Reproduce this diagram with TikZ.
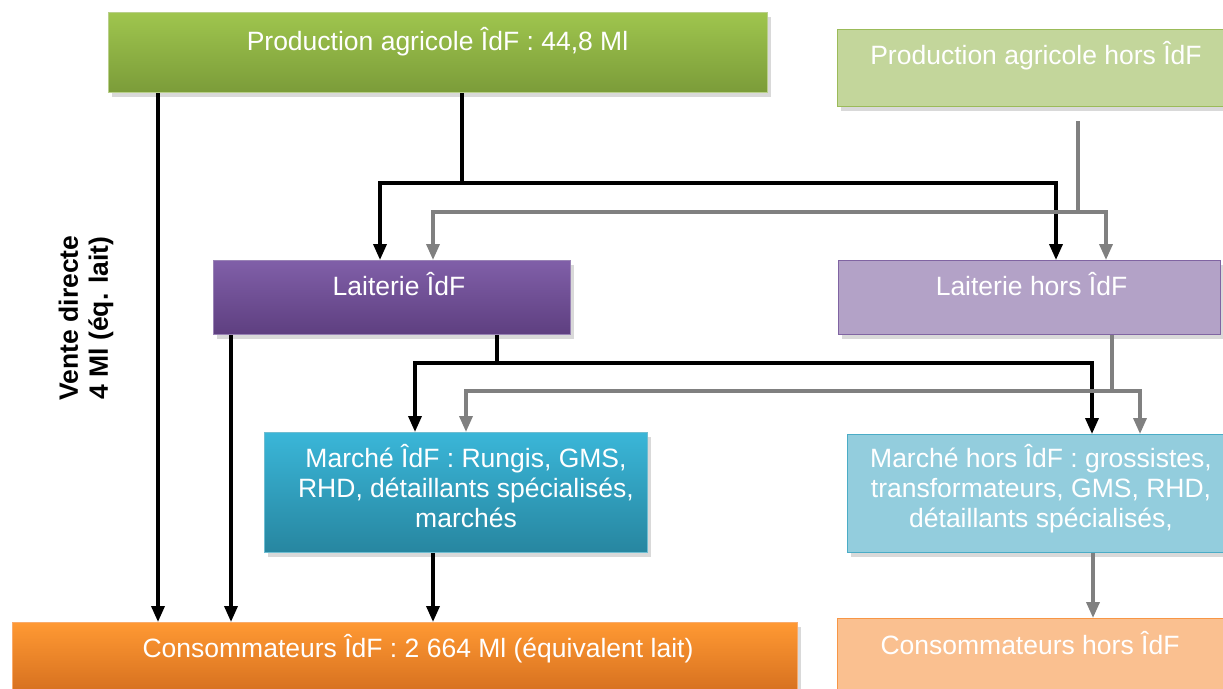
\documentclass[tikz,border=0pt]{standalone}
\usepackage{fontspec}
\setmainfont{Liberation Sans}
\usepackage{xcolor}
\usetikzlibrary{calc}
\usetikzlibrary{arrows.meta,shadows}

\definecolor{grn}{HTML}{9BBB59}
\definecolor{grnTop}{HTML}{9FC54E}
\definecolor{grnBot}{HTML}{7B9C39}
\definecolor{grnLight}{HTML}{C3D69B}
\definecolor{prp}{HTML}{8064A2}
\definecolor{prpTop}{HTML}{805FA8}
\definecolor{prpBot}{HTML}{5E3F80}
\definecolor{prpLight}{HTML}{B3A2C7}
\definecolor{cyn}{HTML}{4BACC6}
\definecolor{cynTop}{HTML}{3AB6D8}
\definecolor{cynBot}{HTML}{2786A0}
\definecolor{cynLight}{HTML}{93CDDD}
\definecolor{orn}{HTML}{F79646}
\definecolor{ornTop}{HTML}{FF9933}
\definecolor{ornBot}{HTML}{D06A1C}
\definecolor{ornLight}{HTML}{FAC090}
\definecolor{flowgray}{HTML}{808080}

\begin{document}
\begin{tikzpicture}[x=1pt,y=-1pt,
    box/.style={line width=1.2pt, inner sep=0pt, anchor=north west,
        drop shadow={shadow xshift=3pt, shadow yshift=-4pt, opacity=0.3}},
    boxtext/.style={text=white, font=\fontsize{26.5}{30}\selectfont, anchor=base, align=center},
    flowline/.style={line width=3.5pt, line join=miter},
    flowarrow/.style={flowline, -{Triangle[width=13pt,length=16pt]}}]
        %CADRE
        \useasboundingbox (0,0) rectangle (1223,688);
        %BOITES IDF
        \node[box, draw=grn!70!white, top color=grnTop, bottom color=grnBot, minimum width=659pt, minimum height=80pt] (prodIdF) at (108,12) {};
        \node[box, draw=prp!80!white, top color=prpTop, bottom color=prpBot, minimum width=357pt, minimum height=74pt] (laitIdF) at (213,260) {};
        \node[box, draw=cyn!80!white, top color=cynTop, bottom color=cynBot, minimum width=383pt, minimum height=120pt] (marIdF) at (264,432) {};
        \node[box, draw=orn!80!white, top color=ornTop, bottom color=ornBot, minimum width=785pt, minimum height=80pt] (consIdF) at (12,622) {};
        %BOITES HORS IDF
        \node[box, draw=grn, fill=grnLight, minimum width=400pt, minimum height=77pt] (prodHors) at (837,29) {};
        \node[box, draw=prp, fill=prpLight, minimum width=382pt, minimum height=74pt] (laitHors) at (838,260) {};
        \node[box, draw=cyn, fill=cynLight, minimum width=400pt, minimum height=118pt] (marHors) at (847,434) {};
        \node[box, draw=orn, fill=ornLight, minimum width=400pt, minimum height=80pt] (consHors) at (837,618) {};
        %TEXTES
        \node[boxtext] (prodIdFtxt) at (437.5,50) {Production agricole ÎdF : 44,8 Ml};
        \node[boxtext] (prodHorstxt) at (1036,64) {Production agricole hors ÎdF};
        \node[boxtext] (laitIdFtxt) at (399,295) {Laiterie ÎdF};
        \node[boxtext] (laitHorstxt) at (1031.5,295) {Laiterie hors ÎdF};
        \node[boxtext] (marIdFtxt) at (466,527) {Marché ÎdF : Rungis, GMS,\\RHD, détaillants spécialisés,\\marchés};
        \node[boxtext] (marHorstxt) at (1041,527) {Marché hors ÎdF : grossistes,\\transformateurs, GMS, RHD,\\détaillants spécialisés,};
        \node[boxtext] (consIdFtxt) at (418,657) {Consommateurs ÎdF : 2 664 Ml (équivalent lait)};
        \node[boxtext] (consHorstxt) at (1030,654) {Consommateurs hors ÎdF};
        \node[font=\bfseries\fontsize{26.5}{30}\selectfont, rotate=90, align=center] (vente) at (86,318) {Vente directe\\4 Ml (éq. lait)};
        %POINTS DE BRANCHEMENT
        \coordinate (vd) at (158,0);
        \coordinate (lc) at (231,0);
        \coordinate (mc) at (433,0);
        \coordinate (mh) at (1093,0);
        \coordinate (j1) at (462,183);
        \coordinate (j2) at (1078,212);
        \coordinate (j3) at (497,363);
        \coordinate (j4) at (1112,391);
        \coordinate (e1) at (380,0);
        \coordinate (e2) at (1056,0);
        \coordinate (e3) at (433,0);
        \coordinate (e4) at (1106,0);
        \coordinate (e5) at (415,0);
        \coordinate (e6) at (1092,0);
        \coordinate (e7) at (466,0);
        \coordinate (e8) at (1140,0);
        %FLUX NOIRS
        \draw[flowarrow] (prodIdF.south -| vd) -- (consIdF.north -| vd);
        \draw[flowarrow] (laitIdF.south -| lc) -- (consIdF.north -| lc);
        \draw[flowarrow] (marIdF.south -| mc) -- (consIdF.north -| mc);
        \draw[flowline] (prodIdF.south -| j1) -- (j1);
        \draw[flowarrow] (j1) -| (laitIdF.north -| e1);
        \draw[flowarrow] (j1) -| (laitHors.north -| e2);
        \draw[flowline] (laitIdF.south -| j3) -- (j3);
        \draw[flowarrow] (j3) -| (marIdF.north -| e5);
        \draw[flowarrow] (j3) -| (marHors.north -| e6);
        %FLUX GRIS
        \draw[flowline, flowgray, shorten <=14pt] (prodHors.south -| j2) -- (j2);
        \draw[flowarrow, flowgray] (j2) -| (laitIdF.north -| e3);
        \draw[flowarrow, flowgray] (j2) -| (laitHors.north -| e4);
        \draw[flowline, flowgray] (laitHors.south -| j4) -- (j4);
        \draw[flowarrow, flowgray] (j4) -| (marIdF.north -| e7);
        \draw[flowarrow, flowgray] (j4) -| (marHors.north -| e8);
        \draw[flowarrow, flowgray] (marHors.south -| mh) -- (consHors.north -| mh);
\end{tikzpicture}
\end{document}
